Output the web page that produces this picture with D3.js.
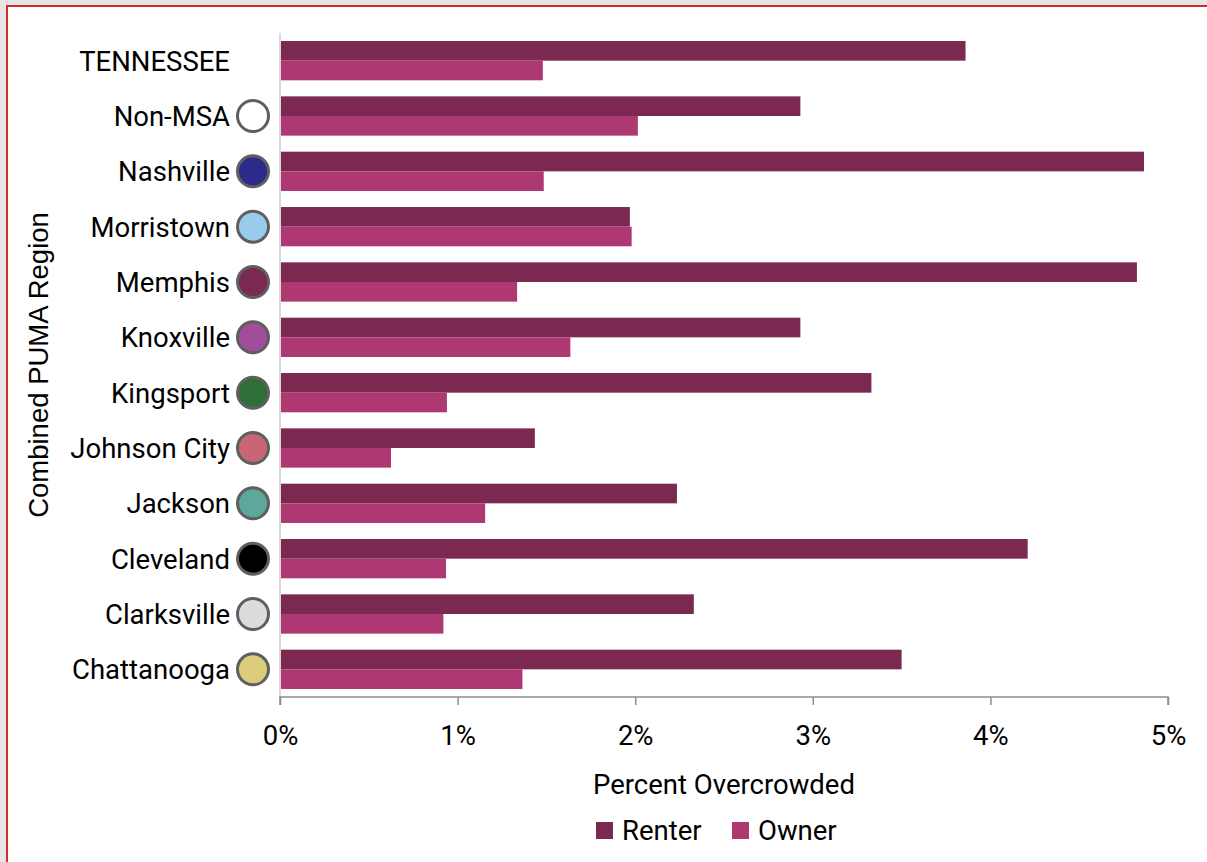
<!DOCTYPE html>
<html><head><meta charset="utf-8">
<script src="https://cdn.jsdelivr.net/npm/d3@7"></script>
<style>
html,body{margin:0;padding:0;background:#e6e6e6;}
svg{display:block;}
</style></head>
<body>
<svg id="chart" width="1207" height="862"></svg>
<script>
const categories = ["TENNESSEE","Non-MSA","Nashville","Morristown","Memphis","Knoxville","Kingsport","Johnson City","Jackson","Cleveland","Clarksville","Chattanooga"];
const renter = [3.86,2.93,4.865,1.97,4.825,2.93,3.33,1.435,2.235,4.21,2.33,3.50];
const owner  = [1.48,2.015,1.485,1.98,1.335,1.635,0.94,0.625,1.155,0.935,0.92,1.365];
const markerColors = [null,"#ffffff","#2e2a8a","#99ccec","#7b2951","#a24c9c","#2e6f38","#c86677","#5ea89b","#000000","#dcdcdc","#dccd7c"];
const seriesNames = ["Renter","Owner"];
const seriesColors = ["#7b2951","#ae3871"];
const xTicks = [0,1,2,3,4,5];

const svg = d3.select("#chart");
// page background and frame
svg.append("rect").attr("x",7).attr("y",6).attr("width",1207).attr("height",870)
  .attr("fill","#ffffff").attr("stroke","#d42a2a").attr("stroke-width",2);

const mLeft = 280, mRight = 1168, mTop = 33, mBottom = 697;
const x = d3.scaleLinear().domain([0,5]).range([mLeft,mRight]);
const y = d3.scaleBand().domain(categories).range([mTop,mBottom]).paddingInner(0.29).paddingOuter(0.145);
const ySub = d3.scaleBand().domain(seriesNames).range([0,y.bandwidth()]);

const font = "Roboto, 'Open Sans', sans-serif";
const fs = 27.5;

// y axis line
svg.append("line").attr("x1",mLeft).attr("x2",mLeft).attr("y1",mTop).attr("y2",mBottom)
  .attr("stroke","#d9d9d9").attr("stroke-width",2);

// bars
const vals = [renter, owner];
seriesNames.forEach((s,si)=>{
  svg.append("g").selectAll("rect").data(categories).join("rect")
    .attr("x",x(0)+1)
    .attr("y",d=>y(d)+ySub(s))
    .attr("width",(d,i)=>x(vals[si][i])-x(0)-1)
    .attr("height",ySub.bandwidth())
    .attr("fill",seriesColors[si]);
});

// x axis
const xAxis = d3.axisBottom(x).tickValues(xTicks).tickFormat(d=>d+"%").tickSize(8).tickPadding(20);
const gx = svg.append("g").attr("transform",`translate(0,${mBottom})`).call(xAxis);
gx.select(".domain").attr("stroke","#8c8c8c").attr("stroke-width",1.5).attr("d",`M${mLeft},8V0H${mRight}V8`);
gx.selectAll(".tick line").attr("stroke","#8c8c8c").attr("stroke-width",1.5);
gx.selectAll(".tick text").attr("fill","#000").attr("font-family",font).attr("font-size",fs);

// category labels
svg.append("g").selectAll("text").data(categories).join("text")
  .attr("x",230).attr("y",d=>y(d)+y.bandwidth()/2)
  .attr("dy","0.36em").attr("text-anchor","end")
  .attr("font-family",font).attr("font-size",fs).attr("fill","#000")
  .text(d=>d);

// markers
svg.append("g").selectAll("circle").data(categories.filter((d,i)=>markerColors[i])).join("circle")
  .attr("cx",253).attr("cy",d=>y(d)+y.bandwidth()/2).attr("r",15.5)
  .attr("fill",d=>markerColors[categories.indexOf(d)])
  .attr("stroke","#5f5f5f").attr("stroke-width",3);

// axis titles
svg.append("text").attr("x",724).attr("y",794).attr("text-anchor","middle")
  .attr("font-family",font).attr("font-size",fs).attr("fill","#000").text("Percent Overcrowded");
svg.append("text").attr("transform",`translate(48,365) rotate(-90)`).attr("text-anchor","middle")
  .attr("font-family","'Liberation Sans', Arial, sans-serif").attr("font-size",27.5).attr("fill","#000").text("Combined PUMA Region");

// legend
const legend = svg.append("g").attr("transform","translate(596,830)");
const legX = [0,136];
seriesNames.forEach((s,i)=>{
  legend.append("rect").attr("x",legX[i]).attr("y",-8).attr("width",17).attr("height",17).attr("fill",seriesColors[i]);
  legend.append("text").attr("x",legX[i]+26).attr("y",0).attr("dy","0.36em")
    .attr("font-family",font).attr("font-size",fs).attr("fill","#000").text(s);
});
</script>
</body></html>
